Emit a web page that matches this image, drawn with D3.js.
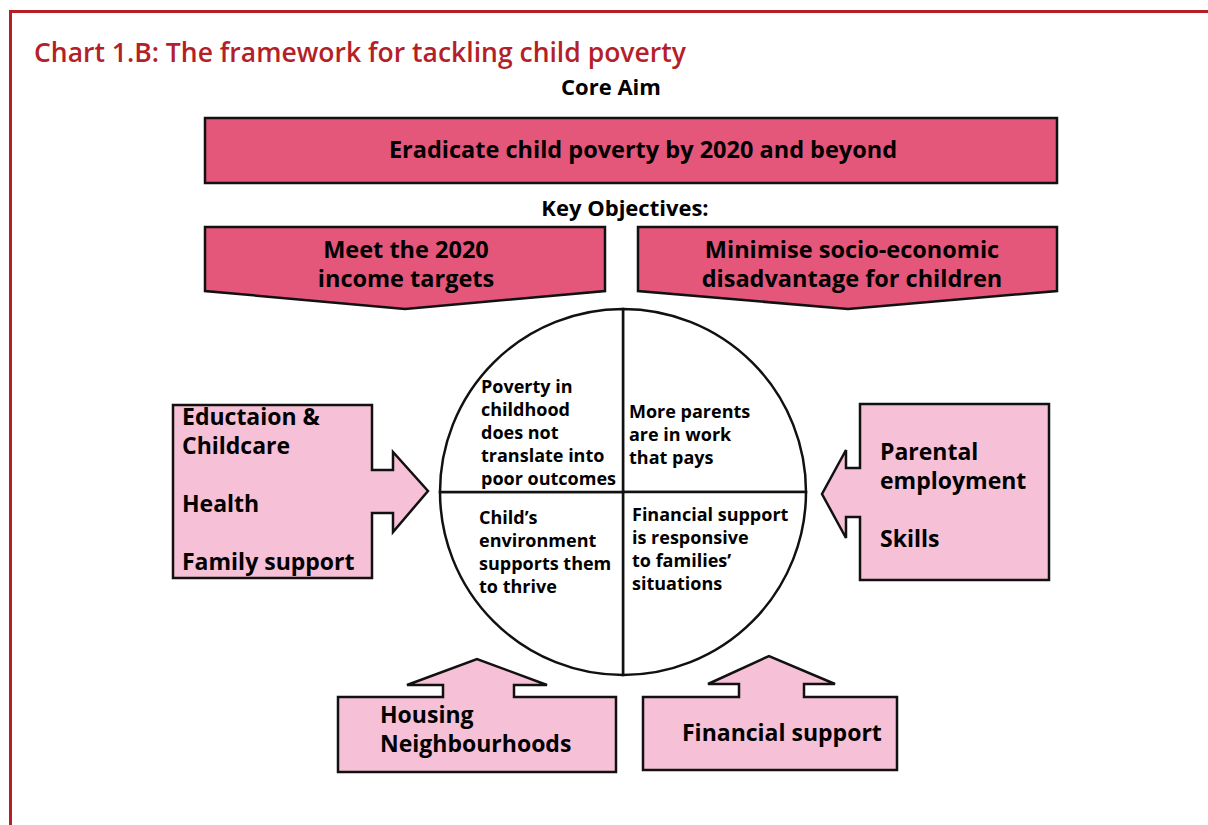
<!DOCTYPE html>
<html>
<head>
<meta charset="utf-8">
<script src="https://cdn.jsdelivr.net/npm/d3@7"></script>
<style>
  html, body { margin: 0; padding: 0; background: #fff; }
  svg { display: block; }
  text { font-family: "Open Sans", "Noto Sans", sans-serif; font-weight: 700; }
</style>
</head>
<body>
<div id="chart"></div>
<script>
// Chart text
const title = "Chart 1.B: The framework for tackling child poverty";
const coreHeading = "Core Aim";
const coreAim = ["Eradicate child poverty by 2020 and beyond"];
const objectivesHeading = "Key Objectives:";
const objectives = [
    ["Meet the 2020", "income targets"],
    ["Minimise socio-economic", "disadvantage for children"]
];
// quadrants, clockwise from 12 o'clock: top-right, bottom-right, bottom-left, top-left
const outcomes = [
    ["More parents", "are in work", "that pays"],
    ["Financial support", "is responsive", "to families\u2019", "situations"],
    ["Child\u2019s", "environment", "supports them", "to thrive"],
    ["Poverty in", "childhood", "does not", "translate into", "poor outcomes"]
];
const leverLeft = ["Eductaion &", "Childcare", "", "Health", "", "Family support"];
const leverRight = ["Parental", "employment", "", "Skills"];
const leverBottomLeft = ["Housing", "Neighbourhoods"];
const leverBottomRight = ["Financial support"];

const width = 1208, height = 825;
const red = "#b41f28", dark = "#e4567a", light = "#f6c0d6", ink = "#111";

const svg = d3.select("#chart").append("svg")
    .attr("width", width)
    .attr("height", height);

// red frame
svg.append("path")
    .attr("d", "M10.5,830 V11.5 H1215")
    .attr("fill", "none")
    .attr("stroke", red)
    .attr("stroke-width", 3);

svg.append("text")
    .attr("x", 34).attr("y", 62)
    .attr("fill", red)
    .style("font-size", "26.5px")
    .style("font-weight", 600)
    .text(title);

const line = d3.line();

function shape(points, fill) {
    svg.append("path")
        .attr("d", line(points) + "Z")
        .attr("fill", fill)
        .attr("stroke", ink)
        .attr("stroke-width", 2.5)
        .attr("stroke-linejoin", "miter");
}

function lines(textLines, x, y, size, lh, anchor) {
    const t = svg.append("text")
        .attr("x", x).attr("y", y)
        .attr("text-anchor", anchor || "start")
        .attr("fill", "#000")
        .style("font-size", size + "px");
    t.selectAll("tspan")
        .data(textLines)
        .join("tspan")
        .attr("x", x)
        .attr("y", (d, i) => y + i * lh)
        .text(d => d);
}

// Core aim
lines([coreHeading], 611, 95, 22, 0, "middle");
shape([[205, 118], [1057, 118], [1057, 183], [205, 183]], dark);
lines(coreAim, 643, 158, 23.5, 0, "middle");

// Key objectives
lines([objectivesHeading], 625, 216, 22, 0, "middle");
shape([[205, 227], [605, 227], [605, 291], [405, 309], [205, 291]], dark);
shape([[638, 227], [1057, 227], [1057, 291], [848, 309], [638, 291]], dark);
lines(objectives[0], 406, 258, 23.5, 29, "middle");
lines(objectives[1], 852, 258, 23.5, 29, "middle");

// Circle of outcomes
const cx = 623, cy = 492, r = 183;
const pie = d3.pie().value(1).sort(null);
const arc = d3.arc().innerRadius(0).outerRadius(r);
const g = svg.append("g").attr("transform", `translate(${cx},${cy})`);
g.selectAll("path")
    .data(pie(outcomes))
    .join("path")
    .attr("d", arc)
    .attr("fill", "#fff")
    .attr("stroke", ink)
    .attr("stroke-width", 2.5);

const quadPos = [
    [629, 418], // top-right
    [632, 521], // bottom-right
    [479, 524], // bottom-left
    [481, 393]  // top-left
];
outcomes.forEach((o, i) => lines(o, quadPos[i][0], quadPos[i][1], 18, 23));

// Left lever, arrow pointing right
shape([[173, 405], [372, 405], [372, 470], [393, 470], [393, 452], [428, 491],
       [393, 532], [393, 513], [372, 513], [372, 578], [173, 578]], light);
lines(leverLeft, 182, 425, 23, 29);

// Right lever, arrow pointing left
shape([[1049, 404], [860, 404], [860, 468], [846, 468], [846, 450], [822, 494],
       [846, 538], [846, 517], [860, 517], [860, 580], [1049, 580]], light);
lines(leverRight, 880, 460, 23, 29);

// Bottom levers, arrows pointing up
shape([[338, 697], [443, 697], [443, 685], [407, 685], [477, 659], [547, 685],
       [514, 685], [514, 697], [616, 697], [616, 772], [338, 772]], light);
lines(leverBottomLeft, 380, 723, 23, 29);

shape([[643, 697], [739, 697], [739, 684], [708, 684], [769, 656], [835, 684],
       [804, 684], [804, 697], [897, 697], [897, 770], [643, 770]], light);
lines(leverBottomRight, 682, 741, 23, 29);
</script>
</body>
</html>
